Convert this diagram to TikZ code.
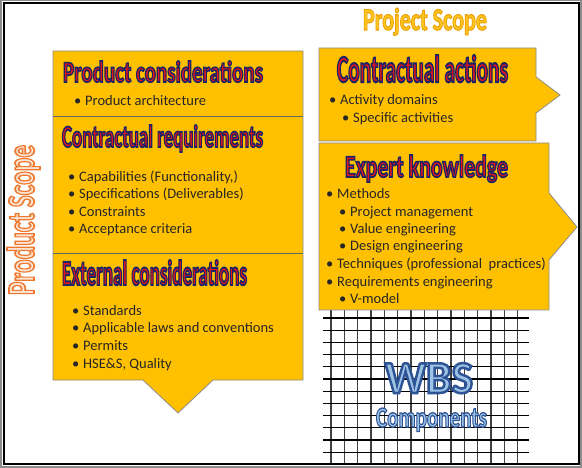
\documentclass[tikz,border=0pt]{standalone}
\usepackage{fontspec}
\usepackage{graphicx}
\setmainfont{Carlito}
\usetikzlibrary{positioning}
\definecolor{gold}{HTML}{FFC000}
\definecolor{headred}{HTML}{E3141B}
\definecolor{bodytext}{HTML}{262626}
\definecolor{scopegold}{HTML}{FFC820}
\definecolor{prodpale}{HTML}{FCE3D2}
\definecolor{wbsblue}{HTML}{9DC3E6}
% stroke colours (rgb) for the outlined titles
\newcommand{\navyedge}{0.11 0.14 0.40}
\newcommand{\goldedge}{0.93 0.62 0.00}
\newcommand{\orangeedge}{0.93 0.48 0.19}
\newcommand{\blueedge}{0.18 0.33 0.59}
% width, height, fill, edge, stroke width, text
\newcommand{\wordart}[6]{\resizebox{#1}{#2}{\textcolor{#3}{%
    \special{pdf:literal direct 2 Tr #5 w #4 RG}#6%
    \special{pdf:literal direct 0 Tr}}}}
\newcommand{\bul}[1]{\makebox[11pt][l]{\textbullet}#1}
\tikzset{boxfill/.style={fill=gold, draw=black!45, line width=0.8pt}}
\tikzset{divider/.style={draw=black!60, line width=0.9pt}}
\tikzset{headline/.style={anchor=base, inner sep=0pt,
    font=\fontsize{20}{24}\selectfont\bfseries}}
\tikzset{itemline/.style={anchor=base west, inner sep=0pt, text=bodytext,
    font=\fontsize{14.5}{17.7}\selectfont}}
\tikzset{gridv/.style={draw=black!75, line width=1.1pt}}
\tikzset{gridh/.style={draw=black, line width=1.1pt}}

\begin{document}
\begin{tikzpicture}[x=1pt, y=-1pt]
    \useasboundingbox (0,0) rectangle (582,468);
    % frame
    \draw[black!45, line width=1.3pt] (1,0.8) rectangle (581,467);
    \draw[black, line width=2pt] (3.5,3) rectangle (578.5,464.3);
    % WBS grid
    \foreach \i in {0,...,14}
        \draw[gridv] (331+13.33*\i,310) -- (331+13.33*\i,463);
    \foreach \j in {0,...,11}
        \draw[gridh] (323,318+12.2*\j) -- (529,318+12.2*\j);
    % left box
    \path[boxfill] (53,51) -- (303,51) -- (303,380) -- (213,380) -- (178,413)
        -- (143,380) -- (53,380) -- cycle;
    \draw[divider] (53,116) -- (303,116);
    \draw[divider] (53,253) -- (303,253);
    % right boxes
    \path[boxfill] (319,48) -- (536,48) -- (536,77) -- (560,95) -- (536,113)
        -- (536,141) -- (319,141) -- cycle;
    \path[boxfill] (319,143) -- (549,143) -- (549,193) -- (577,227) -- (549,260)
        -- (549,310) -- (319,310) -- cycle;

    % titles
    \node[headline] (projscope) at (425,30)
        {\wordart{124pt}{22pt}{scopegold}{\goldedge}{0.7}{Project Scope}};
    \node[headline, rotate=90] (prodscope) at (34,220)
        {\wordart{150pt}{27pt}{prodpale}{\orangeedge}{0.9}{Product Scope}};

    % product considerations
    \node[headline] (pcons) at (163,82)
        {\wordart{200pt}{21pt}{headred}{\navyedge}{1.1}{Product considerations}};
    \node[itemline] (parch) at (74,105.5) {\bul{Product architecture}};
    % contractual requirements
    \node[headline] (creq) at (162.5,147)
        {\wordart{201pt}{22pt}{headred}{\navyedge}{1.1}{Contractual requirements}};
    \foreach \txt [count=\i from 0] in {{Capabilities (Functionality,)},
        {Specifications (Deliverables)}, {Constraints}, {Acceptance criteria}}
        \node[itemline] (creq\i) at (68,181.5+17.5*\i) {\bul{\txt}};
    % external considerations
    \node[headline] (econs) at (154.5,285)
        {\wordart{185pt}{25pt}{headred}{\navyedge}{1.1}{External considerations}};
    \foreach \txt [count=\i from 0] in {{Standards},
        {Applicable laws and conventions}, {Permits}, {HSE\&S, Quality}}
        \node[itemline] (econs\i) at (72,315.5+17.5*\i) {\bul{\txt}};

    % contractual actions
    \node[headline] (cact) at (422.5,82)
        {\wordart{171pt}{27pt}{headred}{\navyedge}{1.1}{Contractual actions}};
    \node[itemline] (adom) at (329,104.5) {\bul{Activity domains}};
    \node[itemline] (sact) at (342,122.5) {\bul{Specific activities}};

    % expert knowledge
    \node[headline] (expk) at (426.5,177)
        {\wordart{163pt}{22pt}{headred}{\navyedge}{1.1}{Expert knowledge}};
    \node[itemline] (meth) at (326,198.5) {\bul{Methods}};
    \node[itemline] (pman) at (339,216.5) {\bul{Project management}};
    \node[itemline] (veng) at (339,234) {\bul{Value engineering}};
    \node[itemline] (deng) at (339,250.5) {\bul{Design engineering}};
    \node[itemline] (tech) at (326,268.5) {\bul{Techniques (professional~~practices)}};
    \node[itemline] (reng) at (326,286.5) {\bul{Requirements engineering}};
    \node[itemline] (vmod) at (339,303.5) {\bul{V-model}};

    % WBS
    \node[headline] (wbs) at (429,393)
        {\wordart{88pt}{30pt}{wbsblue}{\blueedge}{1.1}{WBS}};
    \node[headline] (wbscomp) at (431.5,427)
        {\wordart{111pt}{19pt}{wbsblue}{\blueedge}{0.9}{Components}};
\end{tikzpicture}
\end{document}
